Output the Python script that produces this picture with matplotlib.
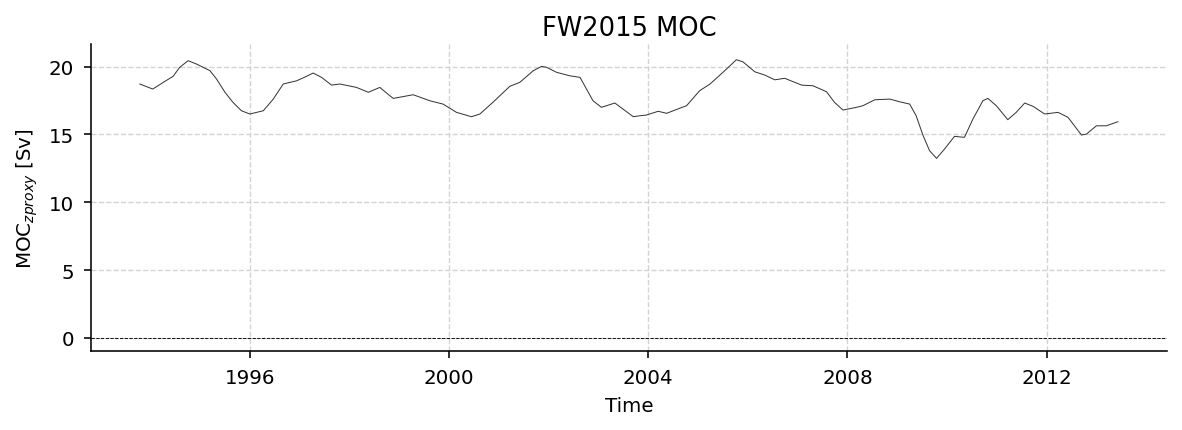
import matplotlib
matplotlib.use("Agg")
import matplotlib.pyplot as plt

years = [1993.79, 1994.05, 1994.26, 1994.46, 1994.59, 1994.76, 1994.93, 1995.20, 1995.33, 1995.50,
         1995.66, 1995.83, 1996.00, 1996.27, 1996.47, 1996.67, 1996.94, 1997.14, 1997.27, 1997.44,
         1997.64, 1997.81, 1998.14, 1998.38, 1998.61, 1998.81, 1998.88, 1999.28, 1999.61, 1999.88,
         2000.15, 2000.45, 2000.62, 2000.88, 2001.22, 2001.42, 2001.69, 2001.86, 2001.96, 2002.16,
         2002.42, 2002.63, 2002.76, 2002.89, 2003.06, 2003.33, 2003.49, 2003.70, 2003.83, 2003.96,
         2004.20, 2004.37, 2004.63, 2004.77, 2005.03, 2005.24, 2005.50, 2005.77, 2005.90, 2006.14,
         2006.34, 2006.54, 2006.74, 2007.08, 2007.31, 2007.58, 2007.74, 2007.91, 2008.18, 2008.31,
         2008.55, 2008.85, 2009.05, 2009.25, 2009.38, 2009.52, 2009.65, 2009.79, 2009.95, 2010.15,
         2010.35, 2010.52, 2010.72, 2010.82, 2010.99, 2011.22, 2011.39, 2011.56, 2011.73, 2011.96,
         2012.23, 2012.43, 2012.70, 2012.80, 2013.00, 2013.20, 2013.43]
moc = [18.72, 18.35, 18.84, 19.29, 19.95, 20.44, 20.19, 19.70, 19.09, 18.11,
       17.37, 16.75, 16.51, 16.75, 17.61, 18.72, 18.96, 19.29, 19.53, 19.21,
       18.64, 18.72, 18.47, 18.11, 18.47, 17.86, 17.66, 17.93, 17.49, 17.24,
       16.63, 16.31, 16.51, 17.37, 18.55, 18.84, 19.70, 20.02, 19.95, 19.58,
       19.33, 19.21, 18.35, 17.49, 17.00, 17.32, 16.88, 16.31, 16.38, 16.43,
       16.71, 16.56, 16.93, 17.12, 18.22, 18.72, 19.58, 20.51, 20.36, 19.62,
       19.38, 19.03, 19.14, 18.64, 18.59, 18.15, 17.37, 16.80, 17.00, 17.12,
       17.56, 17.61, 17.41, 17.24, 16.38, 14.91, 13.80, 13.24, 13.93, 14.86,
       14.79, 16.14, 17.49, 17.66, 17.12, 16.09, 16.63, 17.32, 17.07, 16.51,
       16.63, 16.26, 14.96, 15.03, 15.64, 15.64, 15.94]
xticks = [1996, 2000, 2004, 2008, 2012]
yticks = [0, 5, 10, 15, 20]

s = 1.43
fig = plt.figure(figsize=(11.82, 4.31), dpi=100)
ax = fig.add_axes([0.077, 0.1833, 0.910, 0.7123])
ax.plot(years, moc, color="#333333", lw=0.5 * s)
ax.axhline(0, color="black", ls="--", lw=0.45 * s)
ax.set_xlim(1992.81, 2014.41)
ax.set_ylim(-0.96, 21.67)
ax.set_xticks(xticks)
ax.set_xticklabels([str(t) for t in xticks])
ax.set_yticks(yticks)
ax.tick_params(labelsize=14.3, length=3.5 * s, width=0.8 * s, pad=3.5 * s + 2)
ax.grid(True, ls="--", color="#d3d3d3", lw=0.7 * s, dashes=(3.7, 1.6))
ax.set_axisbelow(True)
for sp in ["left", "bottom"]:
    ax.spines[sp].set_linewidth(0.8 * s)
for sp in ["top", "right"]:
    ax.spines[sp].set_visible(False)
ax.set_title("FW2015 MOC", fontsize=18.5, pad=6 * s - 2)
ax.set_xlabel("Time", fontsize=14.3, labelpad=4 * s + 1)
ax.set_ylabel("MOC$_{zproxy}$ [Sv]", fontsize=14.3, labelpad=4 * s + 1)
fig.savefig("out.png", dpi=100)
